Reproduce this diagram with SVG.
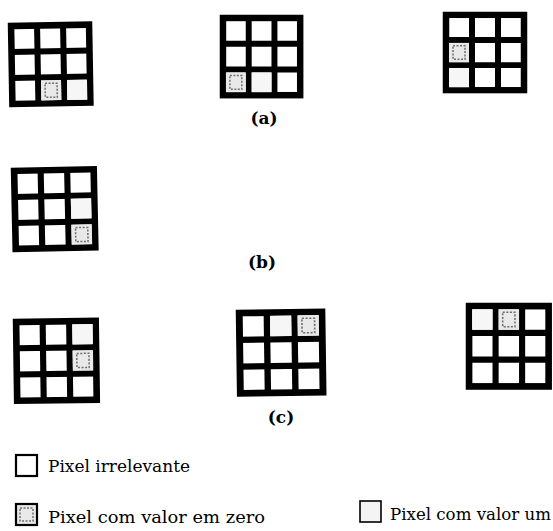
<svg xmlns="http://www.w3.org/2000/svg" xmlns:xlink="http://www.w3.org/1999/xlink" width="553" height="531" viewBox="0 0 553 531">
  <style>
    .frame { fill: #ffffff; stroke: #000000; stroke-width: 6.5; }
    .bar { stroke: #000000; stroke-width: 6; }
    .zero { fill: #e9e9e9; }
    .zero-in { fill: none; stroke: #6e6e6e; stroke-width: 1.5; stroke-dasharray: 2 1.5; }
    .one { fill: #f6f6f6; }
    .lbl { font-family: "DejaVu Serif", "Liberation Serif", serif; font-weight: bold; font-size: 17px; fill: #000; }
    .leg { font-family: "DejaVu Serif", "Liberation Serif", serif; font-size: 16px; fill: #000; }
  </style>
  <defs>
    <!-- 3x3 pixel mask, 84 x 84 -->
    <g id="grid">
      <rect class="frame" x="3" y="3" width="78" height="78"/>
      <line class="bar" x1="29" y1="3" x2="29" y2="81"/>
      <line class="bar" x1="55" y1="3" x2="55" y2="81"/>
      <line class="bar" x1="3" y1="29" x2="81" y2="29"/>
      <line class="bar" x1="3" y1="55" x2="81" y2="55"/>
    </g>
    <!-- pixel with value zero: grey cell with dotted inner square -->
    <g id="zero-cell">
      <rect class="zero" x="0" y="0" width="20" height="20"/>
      <rect class="zero-in" x="4" y="3" width="12" height="14"/>
    </g>
  </defs>

  <!-- row (a) -->
  <g id="mask-a1" transform="translate(8,23) rotate(-1)">
    <use xlink:href="#grid"/>
    <use xlink:href="#zero-cell" x="32" y="58"/>
    <rect class="one" x="58" y="58" width="20" height="20"/>
  </g>
  <g id="mask-a2" transform="translate(220,15) scale(0.99)">
    <use xlink:href="#grid"/>
    <use xlink:href="#zero-cell" x="6" y="58"/>
    <rect class="one" x="32" y="58" width="20" height="20"/>
  </g>
  <g id="mask-a3" transform="translate(443,12) scale(1,0.965)">
    <use xlink:href="#grid"/>
    <use xlink:href="#zero-cell" x="6" y="32"/>
    <rect class="one" x="6" y="58" width="20" height="20"/>
  </g>
  <g id="label-a"><text class="lbl" x="264" y="124" text-anchor="middle">(a)</text></g>

  <!-- row (b) -->
  <g id="mask-b1" transform="translate(11,168) rotate(-1.2) scale(1.02,1)">
    <use xlink:href="#grid"/>
    <use xlink:href="#zero-cell" x="58" y="58"/>
    <rect class="one" x="58" y="32" width="20" height="20"/>
  </g>
  <g id="label-b"><text class="lbl" x="262" y="268" text-anchor="middle">(b)</text></g>

  <!-- row (c) -->
  <g id="mask-c1" transform="translate(13,319) rotate(-0.8) scale(1.02,1.01)">
    <use xlink:href="#grid"/>
    <use xlink:href="#zero-cell" x="58" y="32"/>
    <rect class="one" x="58" y="6" width="20" height="20"/>
  </g>
  <g id="mask-c2" transform="translate(236,310) rotate(-0.8) scale(1.06,1.03)">
    <use xlink:href="#grid"/>
    <use xlink:href="#zero-cell" x="58" y="6"/>
    <rect class="one" x="32" y="6" width="20" height="20"/>
  </g>
  <g id="mask-c3" transform="translate(466,303) scale(1.02,1.03)">
    <use xlink:href="#grid"/>
    <use xlink:href="#zero-cell" x="32" y="6"/>
    <rect class="one" x="6" y="6" width="20" height="20"/>
  </g>
  <g id="label-c"><text class="lbl" x="281" y="423" text-anchor="middle">(c)</text></g>

  <!-- legend -->
  <g id="legend-irrelevant">
    <rect x="16" y="455" width="21" height="21" fill="#ffffff" stroke="#000" stroke-width="2.2"/>
    <text class="leg" x="48" y="472" textLength="142" lengthAdjust="spacingAndGlyphs">Pixel irrelevante</text>
  </g>
  <g id="legend-zero">
    <rect x="16" y="504" width="21" height="21" fill="#e9e9e9" stroke="#000" stroke-width="2.2"/>
    <rect class="zero-in" x="20" y="508" width="13" height="13"/>
    <text class="leg" x="48" y="523" textLength="217" lengthAdjust="spacingAndGlyphs">Pixel com valor em zero</text>
  </g>
  <g id="legend-one">
    <rect x="360" y="501" width="21" height="21" fill="#f4f4f4" stroke="#000" stroke-width="1.6"/>
    <text class="leg" x="390" y="520" textLength="161" lengthAdjust="spacingAndGlyphs">Pixel com valor um</text>
  </g>
</svg>
